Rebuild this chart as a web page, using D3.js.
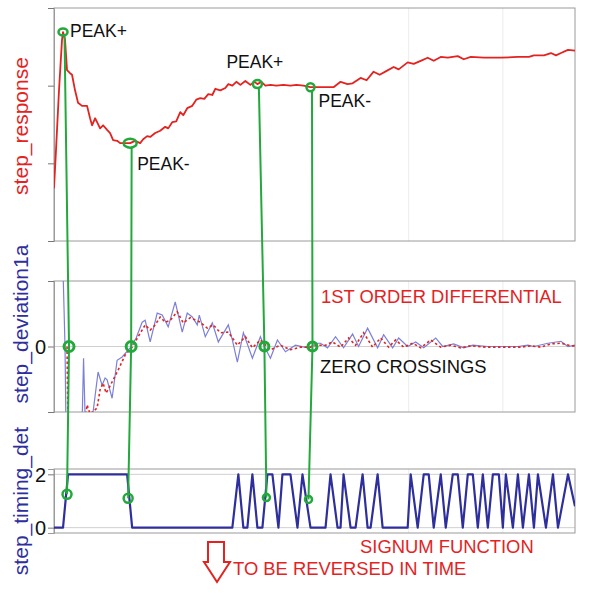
<!DOCTYPE html>
<html><head><meta charset="utf-8">
<script src="https://cdn.jsdelivr.net/npm/d3@7"></script>
<style>html,body{margin:0;padding:0;background:#fff}svg{display:block}</style>
</head><body>
<script>
// ---- DATA ----
// top panel: step_response (time, value)
const respT = [0,1,2.5,4,4.5,5.5,6.5,8,9,10.5,12,14,16.5,18,19,20.5,21.5,23,24.5,26.5,28,29.5,31.5,33,35.5,38,40.5,43,44.5,46.5,48,50.5,53,55.5,57,59,61,63,64.5,66.5,69,71,73,75,77,79,80.5,83,85.5,87,89,91,93,95.5,98,100,101.5,103.5,105.5,108,111,114.5,118,121,124.5,128,133,139.5,143,146.5,149,153,156,159.5,162.5,166,169.5,172,176.5,179.5,183,186.5,189.5,193,196.5,201.5,204.5,208,214.5,223,231.5,237,239.5,244.5,248,250.5,253,256.5,260];
const respV = [6.8,11.7,19.4,25.9,26.9,25.9,22.0,21.6,21.4,19.4,17.8,17.4,17.4,15.8,14.9,15.8,15.3,14.5,14.9,14.3,13.9,13.0,12.9,12.6,12.6,12.6,12.9,12.6,13.1,13.5,13.4,13.9,14.2,14.7,14.5,15.3,15.4,16.6,16.2,17.1,17.4,18.2,18.4,18.3,18.9,18.8,19.6,19.4,19.7,20.2,20.0,20.5,20.1,20.6,20.1,20.5,20.2,20.5,20.0,20.1,20.0,20.1,20.0,20.1,20.0,19.8,19.8,19.8,20.5,20.2,20.3,21.0,20.7,21.8,21.4,21.9,22.4,22.1,23.0,22.8,23.2,23.6,23.2,23.7,23.6,23.8,23.4,23.7,23.6,23.6,23.7,23.7,23.9,23.9,24.2,23.9,24.2,24.6,24.5];
const respTicks = [0,10,20,30];

// middle panel: step_deviation1a (blue) and 1st order differential (red dotted)
const devT = [4.5,5.5,6,12,14,14.75,15.5,18,19.5,22,24,25.5,26.5,29,31.5,34,38,41,44,45.5,48,51.5,54,57,60.5,64,66.5,69,71.5,72.5,75.5,79,82,87,89,91.5,94.5,99,103,105,108,111.5,115.5,120.5,126.5,131.5,133,136.5,140.5,144.5,149,152,156.5,161.5,164.5,169,172,176.5,180.5,184.5,190.5,194,199.5,204.5,209,216.5,223,231.5,236.5,239.5,246.5,253,256.5,260];
const devV = [11.7,0,-12.8,-14.3,-12,-1.8,-10.5,-12,-10,-3.9,-5.9,-4.8,-5.1,-7.9,-2.1,-1.6,-0.2,1.3,3.7,4.0,0.7,5.1,4.8,3.0,6.8,2.2,5.1,4.5,3.3,4.8,1.5,3.6,0.7,3.3,1.0,-2.4,2.1,-1.8,1.5,0,-1.8,1.0,-0.8,0.2,-0.2,0.5,0.5,-0.2,1.5,-0.2,1.9,0,2.8,-0.2,1.8,-0.2,1.3,0,0.7,-0.2,1.3,0,0.4,-0.2,0.2,0,0,0,0.2,0,0.5,0.8,0,0.2];
const diffT = [6.5,7,15,16.5,18,21.5,23,24.5,26,27.5,29.5,32,35.5,39,42,45.5,48,50.5,53,55.5,58,61.5,64.5,68,73,76.5,79.5,83,87,91.5,95.5,99,103,108,113,118,123,128,131.5,135.5,139,143,147,150.5,154.5,159,163,167,170.5,174.5,179,183,188,193,198,203,208,215.5,223,233,238,243,248,253,258,260];
const diffV = [0,-12.7,-12.7,-8.9,-10.3,-9.4,-6.6,-5.6,-7.1,-6.3,-5.1,-3.6,-1.3,-0.1,1.5,3.3,2.5,3.3,4.5,3.7,4.0,5.3,3.6,4.4,3.7,2.8,3.3,2.1,2.2,0.2,1.5,-0.2,1.0,-0.5,0.2,-0.5,-0.1,-0.1,0.2,0.2,0.7,-0.1,1.3,0.2,2.1,-0.1,1.3,-0.1,1.0,-0.1,0.5,-0.2,1.0,-0.1,0.2,-0.2,0.1,-0.1,-0.1,-0.1,0.1,-0.1,0.4,0.5,0.1,0.1];
const devTicks = [-10,0,10];

// bottom panel: step_timing_det (signum)
const sigT = [0,4.5,7,36.5,39,89,92,94.5,96.5,99,101.5,104,106.5,109,112,114,118,121.5,124,128,135.5,138,141.5,143,144.5,148,150.5,154,156.5,158,161.5,164,176.5,178,181.5,184.5,187,189.5,193,195.5,199,201.5,204,206.5,209,211.5,214,216.5,219,222,224,225.5,229,231.5,234,237,239.5,241.5,245.5,249,251.5,256.5,260];
const sigV = [0,0,2,2,0,0,2,0,0,2,0,0,2,2,0,2,2,0,2,0,0,2,0,0,2,0,0,2,0,0,2,0,0,2,0,2,2,0,2,0,2,2,0,2,2,0,2,0,2,2,0,2,0,2,0,2,0,2,0,2,0,2,0.8];
const sigTicks = [0,2];

// annotations: peaks, zero crossings, signum crossings
const peakT = [4.5,38,101.5,128];
const peakV = [26.9,12.6,20.2,19.8];
const peakLabels = ["PEAK+","PEAK-","PEAK+","PEAK-"];
const zeroT = [7.5,38.5,105,129];
const sigCrossT = [6.5,37,106,127];
const sigCrossV = [1.25,1.1,1.13,1.06];
const gridT = [177,224];

// ---- LAYOUT ----
const W = 600, H = 593;
const svg = d3.select("body").append("svg").attr("width", W).attr("height", H);
const x = d3.scaleLinear().domain([0,260]).range([54,575]);
const yTop = d3.scaleLinear().domain([0,30]).range([241,8]);
const yMid = d3.scaleLinear().domain([-10,10]).range([412,281]);
const yBot = d3.scaleLinear().domain([-0.2,2.2]).range([533,469]);

const RED = "#e3231f", BLUE = "#2e2f9c", LBLUE = "#7c80d8", GREEN = "#23a83b", FRAME = "#9a9a9a";
const FONT = "Liberation Sans, Arial, sans-serif";

const defs = svg.append("defs");
[["cTop",yTop],["cMid",yMid],["cBot",yBot]].forEach(([id,s]) => {
  defs.append("clipPath").attr("id", id).append("rect")
    .attr("x", x(0)).attr("y", s.range()[1]).attr("width", x(260)-x(0)).attr("height", s.range()[0]-s.range()[1]);
});

function panel(ys, ticks, gridVals) {
  const g = svg.append("g");
  // faint vertical grid
  g.selectAll(".vg").data(gridT).join("line")
    .attr("x1", d=>x(d)).attr("x2", d=>x(d)).attr("y1", ys.range()[1]).attr("y2", ys.range()[0])
    .attr("stroke", "#ececec").attr("stroke-width", 1);
  gridVals.forEach(v => g.append("line").attr("x1", x(0)).attr("x2", x(260)).attr("y1", ys(v)).attr("y2", ys(v))
    .attr("stroke", "#d0d0d0").attr("stroke-width", 1));
  g.append("rect").attr("x", x(0)).attr("y", ys.range()[1]).attr("width", x(260)-x(0))
    .attr("height", ys.range()[0]-ys.range()[1]).attr("fill","none").attr("stroke", FRAME).attr("stroke-width",1);
  const ax = d3.axisLeft(ys).tickValues(ticks).tickSize(6).tickFormat("");
  const a = svg.append("g").attr("transform", `translate(${x(0)},0)`).call(ax);
  a.select(".domain").attr("stroke", FRAME);
  a.selectAll(".tick line").attr("stroke", "#777");
  return g;
}
panel(yTop, respTicks, []);
panel(yMid, devTicks, [0]);
panel(yBot, sigTicks, [0,2]);

// tick labels
svg.append("text").attr("x", 46).attr("y", yMid(0)).attr("dy","0.36em").attr("text-anchor","end")
  .attr("font-family", FONT).attr("font-size", 20).attr("fill","#111").text("0");
sigTicks.forEach(v => svg.append("text").attr("x", 46).attr("y", yBot(v)).attr("dy","0.36em").attr("text-anchor","end")
  .attr("font-family", FONT).attr("font-size", 20).attr("fill","#111").text(v));

// axis titles
[["step_response", RED, 126], ["step_deviation1a", BLUE, 324], ["step_timing_det", BLUE, 501]].forEach(([t,c,cy]) => {
  svg.append("text").attr("transform", `translate(28,${cy}) rotate(-90)`).attr("text-anchor","middle")
    .attr("font-family", FONT).attr("font-size", 21).attr("fill", c).text(t);
});

// data lines
const lineTop = d3.line().x(d=>x(d[0])).y(d=>yTop(d[1]));
svg.append("path").datum(d3.zip(respT, respV)).attr("d", lineTop).attr("clip-path","url(#cTop)")
  .attr("fill","none").attr("stroke", RED).attr("stroke-width", 1.8).attr("stroke-linejoin","round");

const lineMid = d3.line().x(d=>x(d[0])).y(d=>yMid(d[1]));
svg.append("path").datum(d3.zip(devT, devV)).attr("d", lineMid).attr("clip-path","url(#cMid)")
  .attr("fill","none").attr("stroke", LBLUE).attr("stroke-width", 1.2);
svg.append("path").datum(d3.zip(diffT, diffV)).attr("d", lineMid).attr("clip-path","url(#cMid)")
  .attr("fill","none").attr("stroke", RED).attr("stroke-width", 1.6).attr("stroke-dasharray","2.5,2.5");

const lineBot = d3.line().x(d=>x(d[0])).y(d=>yBot(d[1]));
svg.append("path").datum(d3.zip(sigT, sigV)).attr("d", lineBot).attr("clip-path","url(#cBot)")
  .attr("fill","none").attr("stroke", BLUE).attr("stroke-width", 2.2).attr("stroke-linejoin","round");

// green connectors
peakT.forEach((t,i) => {
  const pts = [[x(t)+1.5, yTop(peakV[i])+4], [x(zeroT[i]), yMid(0)], [x(sigCrossT[i]), yBot(sigCrossV[i])]];
  svg.append("path").attr("d", d3.line()(pts)).attr("fill","none").attr("stroke", GREEN).attr("stroke-width", 2);
});
const peakR = [[4.5,3.5],[6.5,4.5],[4.5,4],[4,4]];
peakT.forEach((t,i) => svg.append("ellipse").attr("cx", x(t)).attr("cy", yTop(peakV[i]))
  .attr("rx", peakR[i][0]).attr("ry", peakR[i][1]).attr("fill","none").attr("stroke", GREEN).attr("stroke-width", 2.5));
zeroT.forEach((t,i) => svg.append("circle").attr("cx", x(t)).attr("cy", yMid(0)).attr("r", i<2?5:4.5)
  .attr("fill","none").attr("stroke", GREEN).attr("stroke-width", 3));
sigCrossT.forEach((t,i) => svg.append("circle").attr("cx", x(t)).attr("cy", yBot(sigCrossV[i])).attr("r", i<2?4.5:3.5)
  .attr("fill","none").attr("stroke", GREEN).attr("stroke-width", 2.5));

// peak labels
const peakOff = [[7,5],[7,27],[-31,-16],[8,20]];
peakT.forEach((t,i) => svg.append("text").attr("x", x(t)+peakOff[i][0]).attr("y", yTop(peakV[i])+peakOff[i][1])
  .attr("font-family", FONT).attr("font-size", 17.5).attr("fill","#111").text(peakLabels[i]));

// annotation texts
const notes = [["1ST ORDER DIFFERENTIAL", 321, 303, RED], ["ZERO CROSSINGS", 320, 373, "#111"],
  ["SIGNUM FUNCTION", 360, 553, RED], ["TO BE REVERSED IN TIME", 233, 575, RED]];
notes.forEach(([t,xx,yy,c]) => svg.append("text").attr("x", xx).attr("y", yy)
  .attr("font-family", FONT).attr("font-size", 18.4).attr("fill", c).text(t));

// down arrow
svg.append("path").attr("d", "M208,542 L224,542 L224,562 L230,562 L217,582 L204,562 L208,562 Z")
  .attr("fill","#fff").attr("stroke", RED).attr("stroke-width", 2).attr("stroke-linejoin","miter");
</script>
</body></html>
